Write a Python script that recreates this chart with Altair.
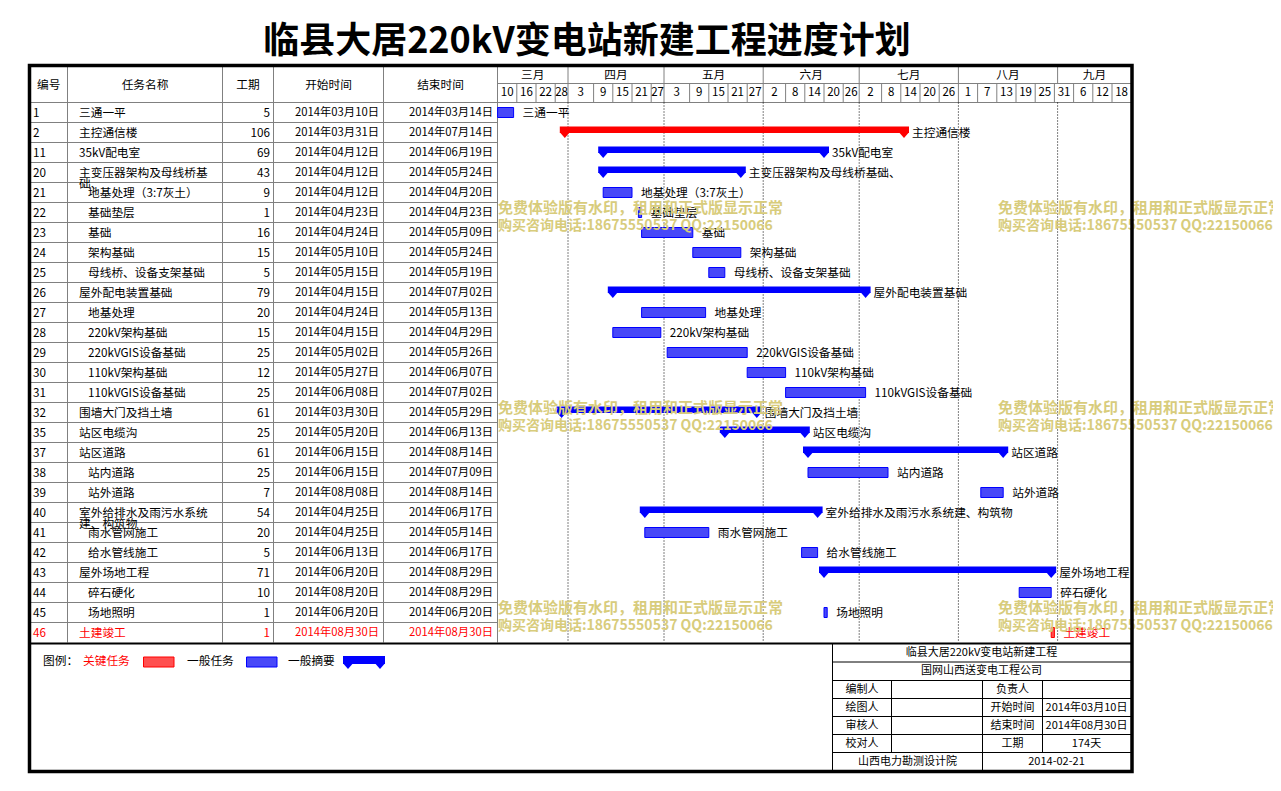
import altair as alt
import pandas as pd
from datetime import date

# ---------------- chart data ----------------
TITLE = "临县大居220kV变电站新建工程进度计划"
HEADERS = ["编号", "任务名称", "工期", "开始时间", "结束时间"]

task_ids = [1, 2, 11, 20, 21, 22, 23, 24, 25, 26, 27, 28, 29, 30, 31, 32, 35, 37, 38, 39, 40, 41, 42, 43, 44, 45, 46]
task_names = ["三通一平", "主控通信楼", "35kV配电室", "主变压器架构及母线桥基础、", "地基处理（3:7灰土）",
              "基础垫层", "基础", "架构基础", "母线桥、设备支架基础", "屋外配电装置基础", "地基处理",
              "220kV架构基础", "220kVGIS设备基础", "110kV架构基础", "110kVGIS设备基础", "围墙大门及挡土墙",
              "站区电缆沟", "站区道路", "站内道路", "站外道路", "室外给排水及雨污水系统建、构筑物",
              "雨水管网施工", "给水管线施工", "屋外场地工程", "碎石硬化", "场地照明", "土建竣工"]
durations = [5, 106, 69, 43, 9, 1, 16, 15, 5, 79, 20, 15, 25, 12, 25, 61, 25, 61, 25, 7, 54, 20, 5, 71, 10, 1, 1]
start_dates = ["2014-03-10", "2014-03-31", "2014-04-12", "2014-04-12", "2014-04-12", "2014-04-23", "2014-04-24",
               "2014-05-10", "2014-05-15", "2014-04-15", "2014-04-24", "2014-04-15", "2014-05-02", "2014-05-27",
               "2014-06-08", "2014-03-30", "2014-05-20", "2014-06-15", "2014-06-15", "2014-08-08", "2014-04-25",
               "2014-04-25", "2014-06-13", "2014-06-20", "2014-08-20", "2014-06-20", "2014-08-30"]
end_dates = ["2014-03-14", "2014-07-14", "2014-06-19", "2014-05-24", "2014-04-20", "2014-04-23", "2014-05-09",
             "2014-05-24", "2014-05-19", "2014-07-02", "2014-05-13", "2014-04-29", "2014-05-26", "2014-06-07",
             "2014-07-02", "2014-05-29", "2014-06-13", "2014-08-14", "2014-07-09", "2014-08-14", "2014-06-17",
             "2014-05-14", "2014-06-17", "2014-08-29", "2014-08-29", "2014-06-20", "2014-08-30"]
subtask_ids = [21, 22, 23, 24, 25, 27, 28, 29, 30, 31, 38, 39, 41, 42, 44, 45]
summary_ids = [2, 11, 20, 26, 32, 35, 37, 40, 43]
critical_ids = [2, 46]

VIEW_START = "2014-03-10"
VIEW_END = "2014-09-24"
month_names = ["三月", "四月", "五月", "六月", "七月", "八月", "九月"]
month_starts = ["2014-03-01", "2014-04-01", "2014-05-01", "2014-06-01", "2014-07-01", "2014-08-01", "2014-09-01"]
day_ticks = ["2014-03-10", "2014-03-16", "2014-03-22", "2014-03-28", "2014-04-03", "2014-04-09", "2014-04-15",
             "2014-04-21", "2014-04-27", "2014-05-03", "2014-05-09", "2014-05-15", "2014-05-21", "2014-05-27",
             "2014-06-02", "2014-06-08", "2014-06-14", "2014-06-20", "2014-06-26", "2014-07-02", "2014-07-08",
             "2014-07-14", "2014-07-20", "2014-07-26", "2014-08-01", "2014-08-07", "2014-08-13", "2014-08-19",
             "2014-08-25", "2014-08-31", "2014-09-06", "2014-09-12", "2014-09-18"]

LEGEND_TITLE = "图例："
legend_labels = ["关键任务", "一般任务", "一般摘要"]

INFO_TITLE = "临县大居220kV变电站新建工程"
INFO_COMPANY = "国网山西送变电工程公司"
info_rows = [["编制人", "", "负责人", ""],
             ["绘图人", "", "开始时间", "2014年03月10日"],
             ["审核人", "", "结束时间", "2014年08月30日"],
             ["校对人", "", "工期", "174天"]]
info_foot = ["山西电力勘测设计院", "2014-02-21"]
watermark_lines = ["免费体验版有水印，租用和正式版显示正常", "购买咨询电话:18675550537 QQ:22150066"]

# ---------------- styles & layout ----------------
F = "Noto Sans CJK SC"
FS = 11.7
BLACK, RED, BLUE, GRID = "#000000", "#ff0000", "#0000ff", "#808080"
BLUE_HATCH, RED_HATCH = "#4848f8", "#ff5050"
WM_COLOR = "#d8cc7c"
TRI = "M-1,-0.15L1,-0.15L0,1Z"

OX, OY = 8, 8
W, H = 1265, 775


def X(v):
    return v - OX


def Y(v):
    return v - OY


FL, FR, FT, FB = 29.5, 1132, 65.5, 771.5
COL_EDGES = [30, 67.5, 222.5, 273.5, 383.5, 497.5]
GX0, GX1 = 497.6, 1131.2
HDR_TOP, HDR_MID, ROW_TOP, ROW_H = 66, 83.5, 102.5, 20
N = len(task_ids)
ROW_BOT = ROW_TOP + N * ROW_H

base = date.fromisoformat(VIEW_START)


def off(s):
    return (date.fromisoformat(s) - base).days


SPAN = off(VIEW_END)
XS = alt.Scale(domain=[0, SPAN], range=[X(GX0), X(GX1)], nice=False, zero=False)
YS = alt.Scale(domain=[0, N], range=[Y(ROW_TOP), Y(ROW_BOT)], nice=False, zero=False)


def cn_date(s):
    y, m, d = s.split("-")
    return f"{y}年{m}月{d}日"


def wrap(name, n=11):
    return name if len(name) <= 12 else name[:n] + "\n" + name[n:]


# ---------------- tables built from the data ----------------
rows = pd.DataFrame({"idx": range(N), "id": [str(i) for i in task_ids], "name": task_names,
                     "dur": [str(d) for d in durations], "start": start_dates, "end": end_dates})
rows["s"] = rows["start"].map(off)
rows["e"] = rows["end"].map(off) + 1
rows["summary"] = [i in summary_ids for i in task_ids]
rows["crit"] = [i in critical_ids for i in task_ids]
rows["sub"] = [i in subtask_ids for i in task_ids]
rows["yc"] = rows["idx"] + 0.5
rows["y0"] = rows["idx"] + 0.25
rows["y1"] = rows["idx"] + 0.75
rows["ys0"] = rows["idx"] + 0.2
rows["ys1"] = rows["idx"] + 0.52
rows["tcolor"] = [RED if (c and not s) else BLACK for c, s in zip(rows["crit"], rows["summary"])]
rows["fill"] = [RED_HATCH if c else BLUE_HATCH for c in rows["crit"]]
rows["sfill"] = [RED if c else BLUE for c in rows["crit"]]
rows["stroke"] = [RED if c else BLUE for c in rows["crit"]]
rows["tname"] = rows["name"].map(wrap)
rows["start_cn"] = rows["start"].map(cn_date)
rows["end_cn"] = rows["end"].map(cn_date)

tasks = rows[~rows["summary"]]
summ = rows[rows["summary"]]

mb = [max(off(m), 0) for m in month_starts] + [SPAN]
months = pd.DataFrame({"label": month_names, "mid": [(a + b) / 2 for a, b in zip(mb[:-1], mb[1:])]})
month_bounds = pd.DataFrame({"t": mb[1:-1]})

tick_off = [off(t) for t in day_ticks]
cell_start = []
for i, t in enumerate(day_ticks):
    c = tick_off[i]
    if i > 0 and t[5:7] != day_ticks[i - 1][5:7] and int(t[8:]) <= 5:
        c = off(t[:8] + "01")
    cell_start.append(c)
cell_end = cell_start[1:] + [SPAN]
days = pd.DataFrame({"label": [str(int(t[8:])) for t in day_ticks],
                     "mid": [(a + b) / 2 for a, b in zip(cell_start, cell_end)]})
day_bounds = pd.DataFrame({"t": cell_start[1:]})

tri = pd.concat([summ[["idx", "s", "sfill"]].rename(columns={"s": "t"}),
                 summ[["idx", "e", "sfill"]].rename(columns={"e": "t"})])
tri["ty"] = tri["idx"] + 0.52


# ---------------- helpers ----------------
def ix(f):
    return alt.X(f"{f}:Q", scale=None, axis=None)


def iy(f):
    return alt.Y(f"{f}:Q", scale=None, axis=None)


def seg_layer(segs, color, width=1.0, dash=None):
    df = pd.DataFrame([(X(a), X(b), Y(c), Y(d)) for a, b, c, d in segs], columns=["x", "x2", "y", "y2"])
    kw = dict(color=color, strokeWidth=width)
    if dash:
        kw["strokeDash"] = dash
    return alt.Chart(df).mark_rule(**kw).encode(x=ix("x"), x2="x2:Q", y=iy("y"), y2="y2:Q")


def text_layer(items, **mk):
    df = pd.DataFrame([(X(a), Y(b), t, c) for a, b, t, c in items if t], columns=["x", "y", "t", "c"])
    kw = dict(font=F, fontSize=FS, baseline="middle")
    kw.update(mk)
    return alt.Chart(df).mark_text(**kw).encode(x=ix("x"), y=iy("y"), text="t:N",
                                                color=alt.Color("c:N", scale=None))


def row_text(df, field, xpos, **mk):
    kw = dict(font=F, fontSize=FS, baseline="middle", lineBreak="\n", lineHeight=11)
    kw.update(mk)
    return alt.Chart(df).mark_text(**kw).encode(
        x=alt.value(X(xpos)), y=alt.Y("yc:Q", scale=YS, axis=None), text=f"{field}:N",
        color=alt.Color("tcolor:N", scale=None))


layers = []

# title
layers.append(text_layer([(587, 42, TITLE, BLACK)], fontSize=36, fontWeight="bold", align="center"))

# table grid
grid = [(COL_EDGES[0], GX0, ROW_TOP + k * ROW_H, ROW_TOP + k * ROW_H) for k in range(1, N)]
grid += [(x, x, HDR_TOP, ROW_BOT) for x in COL_EDGES[1:]]
grid += [(COL_EDGES[0], GX1, ROW_TOP, ROW_TOP), (GX0, GX1, HDR_MID, HDR_MID)]
layers.append(seg_layer(grid, GRID))

# gantt header separators
layers.append(alt.Chart(month_bounds).mark_rule(color=GRID, strokeWidth=1).encode(
    x=alt.X("t:Q", scale=XS, axis=None), y=alt.value(Y(HDR_TOP)), y2=alt.value(Y(HDR_MID))))
layers.append(alt.Chart(day_bounds).mark_rule(color=GRID, strokeWidth=1).encode(
    x=alt.X("t:Q", scale=XS, axis=None), y=alt.value(Y(HDR_MID)), y2=alt.value(Y(ROW_TOP))))
# dotted month lines in the chart body
layers.append(alt.Chart(month_bounds).mark_rule(color=BLACK, strokeWidth=1, strokeDash=[1, 2]).encode(
    x=alt.X("t:Q", scale=XS, axis=None), y=alt.value(Y(ROW_TOP)), y2=alt.value(Y(ROW_BOT))))

# header labels
hdr_items = [((COL_EDGES[i] + COL_EDGES[i + 1]) / 2, 84.5, h, BLACK) for i, h in enumerate(HEADERS)]
layers.append(text_layer(hdr_items, align="center"))
layers.append(alt.Chart(months).mark_text(font=F, fontSize=FS, baseline="middle", align="center").encode(
    x=alt.X("mid:Q", scale=XS, axis=None), y=alt.value(Y(75)), text="label:N", color=alt.value(BLACK)))
layers.append(alt.Chart(days).mark_text(font=F, fontSize=11.5, baseline="middle", align="center").encode(
    x=alt.X("mid:Q", scale=XS, axis=None), y=alt.value(Y(93)), text="label:N", color=alt.value(BLACK)))

# table cells
layers.append(row_text(rows, "id", 33, align="left"))
layers.append(row_text(rows[~rows["sub"]], "tname", 79, align="left"))
layers.append(row_text(rows[rows["sub"]], "tname", 88, align="left"))
layers.append(row_text(rows, "dur", 270, align="right"))
layers.append(row_text(rows, "start_cn", 379, align="right", fontSize=11.3))
layers.append(row_text(rows, "end_cn", 493, align="right", fontSize=11.3))

# gantt bars
layers.append(alt.Chart(tasks).mark_rect(strokeWidth=1).encode(
    x=alt.X("s:Q", scale=XS, axis=None), x2="e:Q",
    y=alt.Y("y0:Q", scale=YS, axis=None), y2="y1:Q",
    fill=alt.Fill("fill:N", scale=None), stroke=alt.Stroke("stroke:N", scale=None)))
layers.append(alt.Chart(summ).mark_rect(xOffset=-5, x2Offset=5).encode(
    x=alt.X("s:Q", scale=XS, axis=None), x2="e:Q",
    y=alt.Y("ys0:Q", scale=YS, axis=None), y2="ys1:Q",
    fill=alt.Fill("sfill:N", scale=None)))
layers.append(alt.Chart(tri).mark_point(shape=TRI, size=100, filled=True, opacity=1, strokeWidth=0).encode(
    x=alt.X("t:Q", scale=XS, axis=None), y=alt.Y("ty:Q", scale=YS, axis=None),
    color=alt.Color("sfill:N", scale=None)))

# bar labels
layers.append(alt.Chart(tasks).mark_text(font=F, fontSize=FS, baseline="middle", align="left", dx=9).encode(
    x=alt.X("e:Q", scale=XS, axis=None), y=alt.Y("yc:Q", scale=YS, axis=None), text="name:N",
    color=alt.Color("tcolor:N", scale=None)))
layers.append(alt.Chart(summ).mark_text(font=F, fontSize=FS, baseline="middle", align="left", dx=8).encode(
    x=alt.X("e:Q", scale=XS, axis=None), y=alt.Y("yc:Q", scale=YS, axis=None), text="name:N",
    color=alt.Color("tcolor:N", scale=None)))

# bottom separator, info box lines, frame
layers.append(seg_layer([(28, 1133, 643.5, 643.5)], BLACK, 2))
info_lines = [(832.5, 832.5, 643.5, 770)]
info_lines += [(832.5, FR, y, y) for y in [662, 680.5, 698.5, 716.5, 734.5, 752.5]]
info_lines += [(891.5, 891.5, 680.5, 752.5), (1042.5, 1042.5, 680.5, 752.5), (982.5, 982.5, 680.5, 770)]
layers.append(seg_layer(info_lines, BLACK, 1))

info_items = [(981.5, 652.5, INFO_TITLE, BLACK), (981.5, 671, INFO_COMPANY, BLACK)]
cx = [862, 937, 1012.5, 1086.5]
for r, vals in enumerate(info_rows):
    for c, v in enumerate(vals):
        info_items.append((cx[c], 689.5 + 18 * r, v, BLACK))
info_items += [(907.5, 761.5, info_foot[0], BLACK), (1056.5, 761.5, info_foot[1], BLACK)]
layers.append(text_layer(info_items, align="center", fontSize=11))

# legend
leg_items = [(43, 661, LEGEND_TITLE, BLACK), (83, 661, legend_labels[0], RED),
             (187, 661, legend_labels[1], BLACK), (288, 661, legend_labels[2], BLACK)]
layers.append(text_layer(leg_items, align="left"))
leg_boxes = pd.DataFrame({"x": [X(143.5), X(246.5)], "x2": [X(174), X(277)], "y": [Y(657), Y(657)],
                          "y2": [Y(667), Y(667)], "f": [RED_HATCH, BLUE_HATCH], "s": [RED, BLUE]})
layers.append(alt.Chart(leg_boxes).mark_rect(strokeWidth=1).encode(
    x=ix("x"), x2="x2:Q", y=iy("y"), y2="y2:Q",
    fill=alt.Fill("f:N", scale=None), stroke=alt.Stroke("s:N", scale=None)))
layers.append(alt.Chart(pd.DataFrame({"x": [X(343)], "x2": [X(385)], "y": [Y(656)], "y2": [Y(664)]}))
              .mark_rect(color=BLUE).encode(x=ix("x"), x2="x2:Q", y=iy("y"), y2="y2:Q"))
layers.append(alt.Chart(pd.DataFrame({"x": [X(348), X(380)], "y": [Y(664), Y(664)]}))
              .mark_point(shape=TRI, size=100, filled=True, opacity=1, strokeWidth=0, color=BLUE)
              .encode(x=ix("x"), y=iy("y")))

# watermark (two lines per block)
wm1, wm2 = [], []
for gx in [498, 998]:
    for gy in [208, 408, 608]:
        wm1.append((gx, gy, watermark_lines[0], WM_COLOR))
        wm2.append((gx, gy + 18, watermark_lines[1], WM_COLOR))
layers.append(text_layer(wm1, align="left", fontSize=15, fontWeight="bold"))
layers.append(text_layer(wm2, align="left", fontSize=14, fontWeight="bold"))

# outer frame
layers.append(alt.Chart(pd.DataFrame({"x": [X(FL)], "x2": [X(FR)], "y": [Y(FT)], "y2": [Y(FB)]}))
              .mark_rect(fillOpacity=0, stroke=BLACK, strokeWidth=3.5)
              .encode(x=ix("x"), x2="x2:Q", y=iy("y"), y2="y2:Q"))

chart = alt.layer(*layers).properties(
    width=W, height=H, padding=0, autosize=alt.AutoSizeParams(type="none"), background="white"
).configure_view(stroke=None)

chart.save("out.html", embed_options={"renderer": "svg", "actions": False})
